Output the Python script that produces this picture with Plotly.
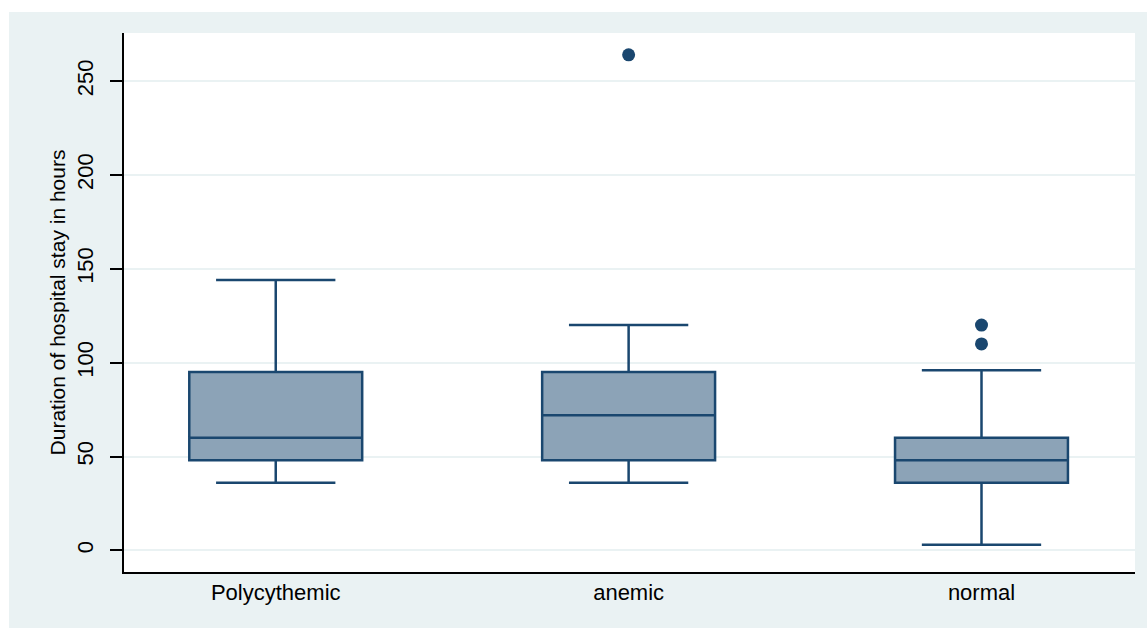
import plotly.graph_objects as go

# ---- data ----
categories = ["Polycythemic", "anemic", "normal"]
lower_whisker = [36, 36, 3]
q1_values = [48, 48, 36]
median_values = [60, 72, 48]
q3_values = [95, 95, 60]
upper_whisker = [144, 120, 96]
outlier_category = ["anemic", "normal", "normal"]
outlier_values = [264, 120, 110]
y_ticks = [0, 50, 100, 150, 200, 250]
y_title = "Duration of hospital stay in hours"

# ---- style ----
NAVY = "#1A476F"
FILL = "#8CA3B7"
BG = "#EAF2F3"
FONT = "Liberation Sans, Arial, sans-serif"

W, H = 1147, 628
L, R, T, B = 124, 12, 33, 56
pw, ph = W - L - R, H - T - B

fig = go.Figure()
fig.add_trace(go.Box(
    x=categories,
    q1=q1_values,
    median=median_values,
    q3=q3_values,
    lowerfence=lower_whisker,
    upperfence=upper_whisker,
    boxpoints=False,
    width=0.49,
    whiskerwidth=0.69,
    fillcolor=FILL,
    line=dict(color=NAVY, width=2.5),
    showlegend=False,
    hoverinfo="skip",
))
fig.add_trace(go.Scatter(
    x=outlier_category,
    y=outlier_values,
    mode="markers",
    marker=dict(color=NAVY, size=13, symbol="circle"),
    showlegend=False,
    hoverinfo="skip",
))

def px_to_paper_x(px):
    return (px - L) / pw

def px_to_paper_y(py):
    return (H - B - py) / ph

fig.update_layout(
    width=W, height=H,
    margin=dict(l=L, r=R, t=T, b=B, autoexpand=False),
    paper_bgcolor="white",
    plot_bgcolor="white",
    font=dict(family=FONT, color="black"),
    shapes=[
        dict(type="rect", xref="paper", yref="paper", layer="below",
             x0=px_to_paper_x(9), x1=px_to_paper_x(W + 5),
             y0=px_to_paper_y(H + 5), y1=px_to_paper_y(12),
             fillcolor=BG, line=dict(width=0)),
        dict(type="rect", xref="paper", yref="paper", layer="below",
             x0=0, x1=1, y0=0, y1=1,
             fillcolor="white", line=dict(width=0)),
    ],
    xaxis=dict(
        type="category",
        range=[-0.43, 2.435],
        showline=True, linecolor="black", linewidth=1.5,
        showgrid=False, zeroline=False,
        ticks="",
        tickfont=dict(size=22, family=FONT, color="black"),
        automargin=False,
    ),
    yaxis=dict(
        range=[-11.5, 275.6],
        tickvals=y_ticks,
        tickangle=-90,
        showline=True, linecolor="black", linewidth=1.5,
        showgrid=True, gridcolor=BG, gridwidth=2,
        zeroline=False,
        ticks="outside", ticklen=12, tickwidth=1.5, tickcolor="black",
        ticklabelstandoff=8,
        tickfont=dict(size=22, family=FONT, color="black"),
        title=dict(text=y_title, font=dict(size=21, family=FONT, color="black"), standoff=2),
        automargin=False,
    ),
)

fig.write_html(
    "out.html",
    config={"displayModeBar": False},
    post_script="document.body.style.margin='0';document.body.style.padding='0';",
)
